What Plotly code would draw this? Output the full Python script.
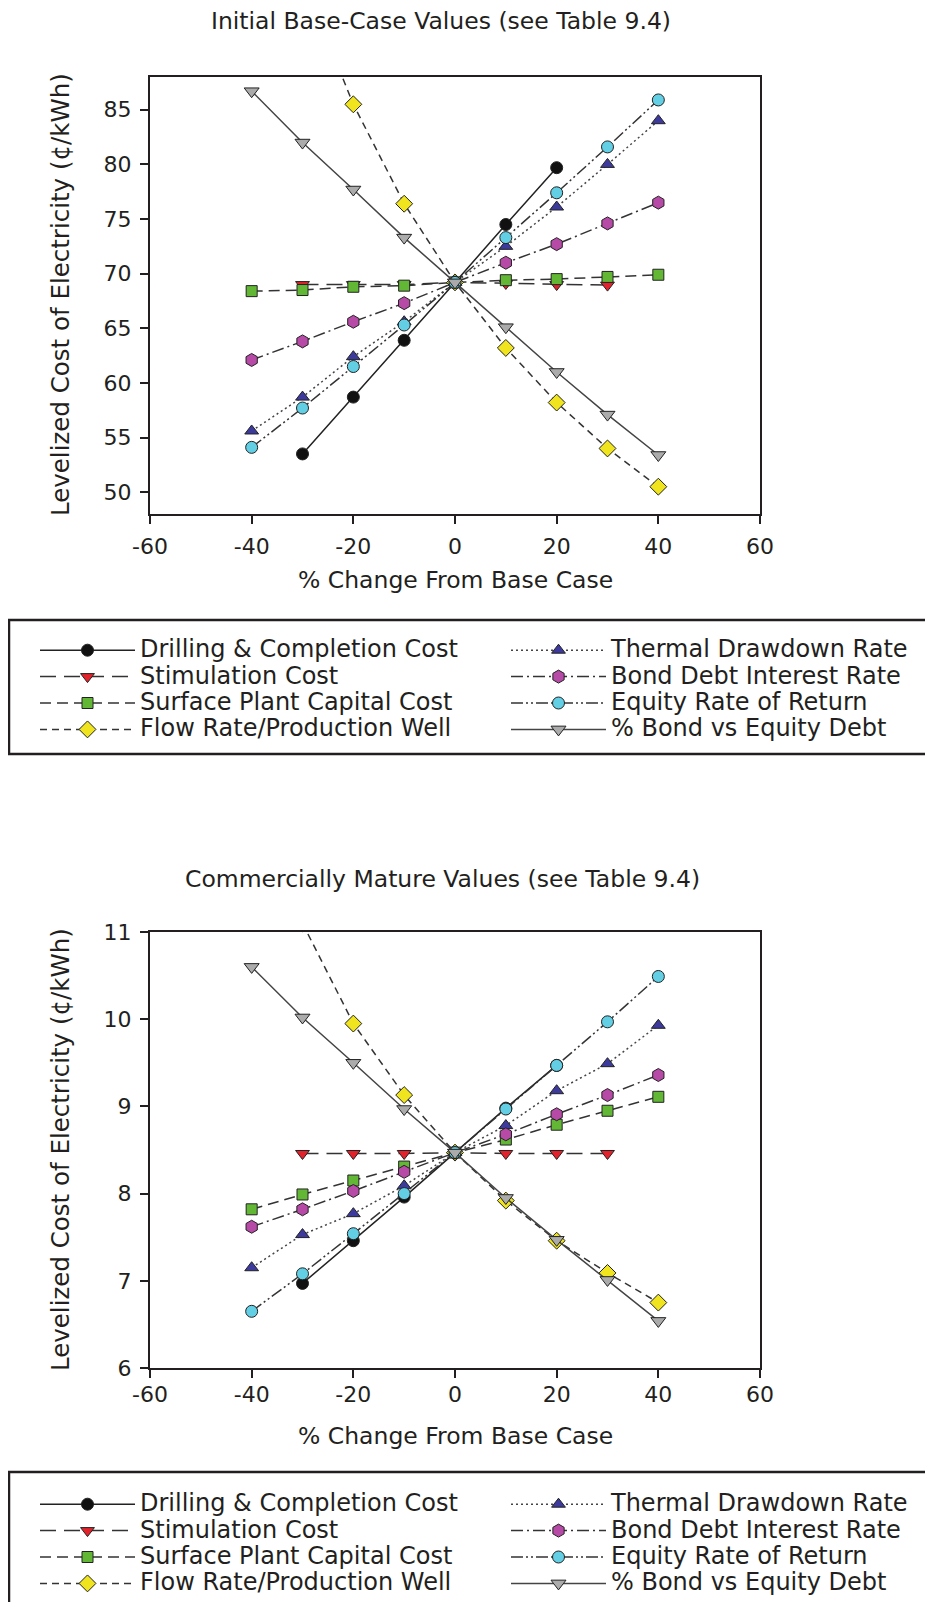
import plotly.graph_objects as go

# screenshot size and the page's default 8px body margin
SCREEN_W, SCREEN_H = 933, 1602
OFF = 8
W, H = SCREEN_W - OFF, SCREEN_H - OFF

# ---------------- data ----------------
pct_change = [-40, -30, -20, -10, 0, 10, 20, 30, 40]

series_names = [
    "Drilling & Completion Cost",
    "Stimulation Cost",
    "Surface Plant Capital Cost",
    "Flow Rate/Production Well",
    "Thermal Drawdown Rate",
    "Bond Debt Interest Rate",
    "Equity Rate of Return",
    "% Bond vs Equity Debt",
]

# Initial base-case values (cents/kWh)
base_drilling = [None, 53.5, 58.7, 63.9, 69.2, 74.5, 79.7, None, None]
base_stimulation = [None, 69.0, 69.0, 69.0, 69.2, 69.1, 69.0, 68.95, None]
base_surface = [68.4, 68.5, 68.8, 68.9, 69.2, 69.4, 69.5, 69.7, 69.9]
base_flow = [None, 97.0, 85.5, 76.4, 69.2, 63.2, 58.2, 54.0, 50.5]
base_thermal = [55.6, 58.7, 62.4, 65.6, 69.2, 72.5, 76.1, 80.0, 84.0]
base_bond = [62.1, 63.8, 65.6, 67.3, 69.2, 71.0, 72.7, 74.6, 76.5]
base_equity = [54.1, 57.7, 61.5, 65.3, 69.2, 73.3, 77.4, 81.6, 85.9]
base_bond_vs_equity = [86.7, 82.0, 77.7, 73.3, 69.2, 65.1, 61.0, 57.1, 53.4]

# Commercially mature values (cents/kWh)
mature_drilling = [None, 6.97, 7.46, 7.96, 8.47, 8.98, 9.47, None, None]
mature_stimulation = [None, 8.46, 8.46, 8.46, 8.47, 8.46, 8.46, 8.46, None]
mature_surface = [7.82, 7.99, 8.15, 8.31, 8.47, 8.62, 8.79, 8.95, 9.11]
mature_flow = [None, 11.1, 9.95, 9.13, 8.47, 7.92, 7.46, 7.09, 6.75]
mature_thermal = [7.15, 7.53, 7.77, 8.09, 8.47, 8.78, 9.18, 9.49, 9.93]
mature_bond = [7.62, 7.82, 8.03, 8.25, 8.47, 8.68, 8.91, 9.13, 9.36]
mature_equity = [6.65, 7.08, 7.54, 8.00, 8.47, 8.97, 9.47, 9.97, 10.49]
mature_bond_vs_equity = [10.60, 10.02, 9.50, 8.97, 8.47, 7.95, 7.47, 7.01, 6.54]

base_series = [base_drilling, base_stimulation, base_surface, base_flow,
               base_thermal, base_bond, base_equity, base_bond_vs_equity]
mature_series = [mature_drilling, mature_stimulation, mature_surface, mature_flow,
                 mature_thermal, mature_bond, mature_equity, mature_bond_vs_equity]

x_ticks = [-60, -40, -20, 0, 20, 40, 60]
base_y_ticks = [50, 55, 60, 65, 70, 75, 80, 85]
mature_y_ticks = [6, 7, 8, 9, 10, 11]

chart_titles = ["Initial Base-Case Values (see Table 9.4)",
                "Commercially Mature Values (see Table 9.4)"]
x_title = "% Change From Base Case"
y_title = "Levelized Cost of Electricity (¢/kWh)"

# ---------------- styles ----------------
styles = [
    dict(symbol="circle", color="#111111", size=12, dash="solid", lcolor="#222222"),
    dict(symbol="triangle-down", color="#e3222b", size=12, dash="16px,8px", lcolor="#333333"),
    dict(symbol="square", color="#62b834", size=11, dash="11px,6px", lcolor="#333333"),
    dict(symbol="diamond", color="#efe41e", size=13, dash="7px,5px", lcolor="#333333"),
    dict(symbol="triangle-up", color="#3c3a9c", size=12, dash="2px,3px", lcolor="#444444"),
    dict(symbol="hexagon", color="#b64aa6", size=13, dash="12px,4px,2px,4px", lcolor="#333333"),
    dict(symbol="circle", color="#62cfe4", size=12, dash="12px,3px,2px,3px,2px,3px", lcolor="#333333"),
    dict(symbol="triangle-down", color="#ababab", size=13, dash="solid", lcolor="#444444"),
]
# first four series in the left legend column, last four in the right one
legend_column = [0, 0, 0, 0, 1, 1, 1, 1]

FONT = "DejaVu Sans"
TXT = "#231f20"
LEGEND_TEXT_PX = 24


def px_x(p):
    """screen pixel -> paper fraction"""
    return (p - OFF) / W


def px_y(p):
    return 1 - (p - OFF) / H


fig = go.Figure()

for data, xa, ya, legends in [(base_series, "x", "y", ("legend", "legend2")),
                              (mature_series, "x2", "y2", ("legend3", "legend4"))]:
    for i, (name, vals) in enumerate(zip(series_names, data)):
        st = styles[i]
        fig.add_trace(go.Scatter(
            x=pct_change, y=vals,
            name=f'<span style="font-size:{LEGEND_TEXT_PX}px">{name}</span>',
            mode="lines+markers",
            xaxis=xa, yaxis=ya, legend=legends[legend_column[i]],
            line=dict(color=st["lcolor"], width=1.5, dash=st["dash"]),
            marker=dict(symbol=st["symbol"], size=st["size"], color=st["color"],
                        line=dict(color="#222222", width=1)),
            cliponaxis=True,
        ))

axis_common = dict(showline=True, linewidth=2.2, linecolor="#231f20", mirror=True,
                   ticks="outside", ticklen=8, tickwidth=2, tickcolor="#231f20",
                   showgrid=False, zeroline=False, automargin=False,
                   tickfont=dict(family=FONT, size=22, color=TXT))

x_ticktext = [str(v) for v in x_ticks]

legend_common = dict(orientation="v", xanchor="left", yanchor="top", itemwidth=95,
                     font=dict(family=FONT, size=18, color=TXT),
                     bgcolor="rgba(0,0,0,0)", borderwidth=0, traceorder="normal")

fig.update_layout(
    width=W, height=H,
    margin=dict(l=0, r=0, t=0, b=0, autoexpand=False),
    paper_bgcolor="white", plot_bgcolor="white",
    font=dict(family=FONT, color=TXT),
    xaxis=dict(domain=[px_x(150), px_x(760)], anchor="y", range=[-60, 60],
               tickvals=x_ticks, ticktext=x_ticktext, ticklabelstandoff=3, **axis_common),
    yaxis=dict(domain=[px_y(514), px_y(77)], anchor="x", range=[48, 88],
               tickvals=base_y_ticks, ticklabelstandoff=4, **axis_common),
    xaxis2=dict(domain=[px_x(150), px_x(760)], anchor="y2", range=[-60, 60],
                tickvals=x_ticks, ticktext=x_ticktext, ticklabelstandoff=-3, **axis_common),
    yaxis2=dict(domain=[px_y(1368), px_y(932)], anchor="x2", range=[6, 11],
                tickvals=mature_y_ticks, ticklabelstandoff=4, **axis_common),
    legend=dict(x=px_x(35), y=px_y(632), **legend_common),
    legend2=dict(x=px_x(506), y=px_y(632), **legend_common),
    legend3=dict(x=px_x(35), y=px_y(1486), **legend_common),
    legend4=dict(x=px_x(506), y=px_y(1486), **legend_common),
    showlegend=True,
)

annotations = [
    dict(text=chart_titles[0], x=px_x(441), y=px_y(21), font=dict(size=23.5)),
    dict(text=chart_titles[1], x=px_x(442), y=px_y(879), font=dict(size=23.5)),
    dict(text=x_title, x=px_x(455), y=px_y(580), font=dict(size=23.5)),
    dict(text=x_title, x=px_x(455), y=px_y(1436), font=dict(size=23.5)),
    dict(text=y_title, x=px_x(60), y=px_y(295), textangle=-90, font=dict(size=24.5)),
    dict(text=y_title, x=px_x(60), y=px_y(1150), textangle=-90, font=dict(size=24.5)),
]
for a in annotations:
    a.update(xref="paper", yref="paper", showarrow=False, xanchor="center", yanchor="middle")
    a["font"].update(family=FONT, color=TXT)
fig.update_layout(annotations=annotations)

# legend frames
for y0, y1 in [(620, 754), (1472, 1660)]:
    fig.add_shape(type="rect", xref="paper", yref="paper",
                  x0=px_x(9), x1=px_x(980), y0=px_y(y1), y1=px_y(y0),
                  line=dict(color="#231f20", width=2.5), fillcolor="rgba(0,0,0,0)",
                  layer="above")

fig.write_html("out.html")
